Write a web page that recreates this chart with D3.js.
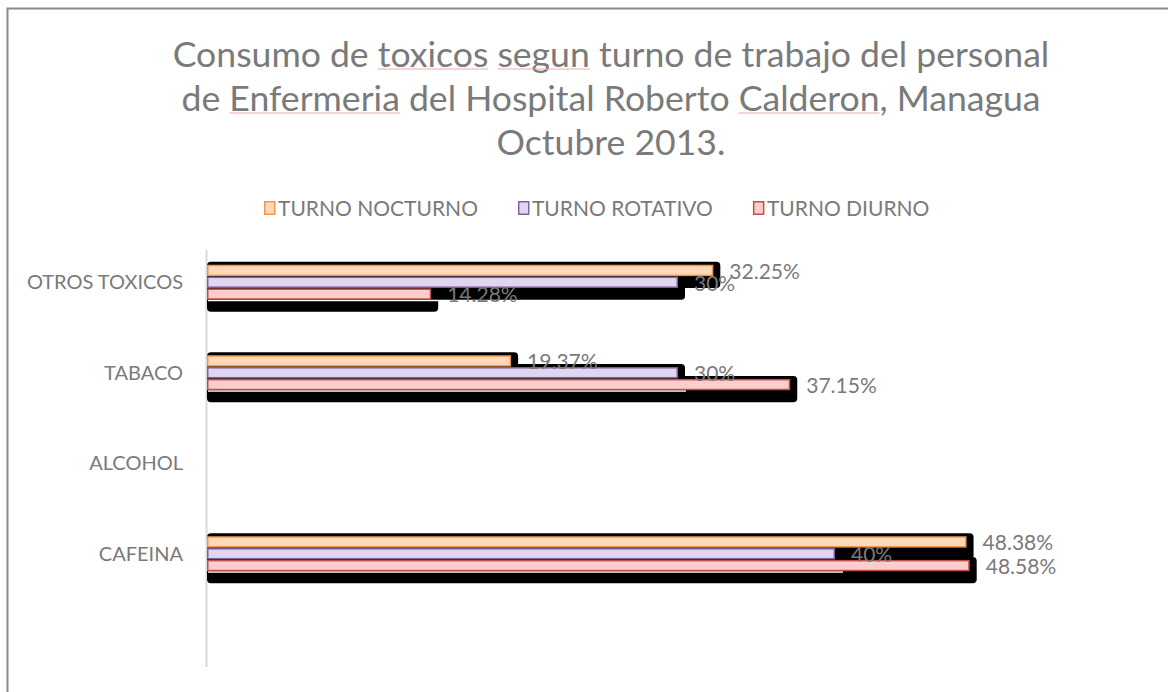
<!DOCTYPE html>
<html>
<head>
<meta charset="utf-8">
<script src="https://d3js.org/d3.v7.min.js"></script>
<style>
  body { margin: 0; background: #fff; }
  svg text { font-family: Lato, "Open Sans", sans-serif; }
</style>
</head>
<body>
<div id="chart"></div>
<script>
// categories, bottom to top as in the original sheet
var categories = ["CAFEINA", "ALCOHOL", "TABACO", "OTROS TOXICOS"];
var seriesNames = ["TURNO NOCTURNO", "TURNO ROTATIVO", "TURNO DIURNO"];
var nocturno = [48.38, null, 19.37, 32.25];
var rotativo = [40, null, 30, 30];
var diurno = [48.58, null, 37.15, 14.28];
var titleLines = [
  "Consumo de toxicos segun turno de trabajo del personal",
  "de Enfermeria del Hospital Roberto Calderon, Managua",
  "Octubre 2013."
];
var flagged = ["toxicos", "segun", "Enfermeria", "Calderon"];

var seriesValues = [nocturno, rotativo, diurno];
var fills = ["#fdd9b9", "#e0d6ef", "#fdcccc"];
var strokes = ["#f79646", "#8064a2", "#c0504d"];

var W = 1168, H = 692;
var svg = d3.select("#chart").append("svg").attr("width", W).attr("height", H);

// outer frame (only left and top edges are visible)
svg.append("path")
  .attr("d", "M7.5," + H + "V8.5H" + W)
  .attr("fill", "none").attr("stroke", "#8a8a8a").attr("stroke-width", 2);

// title
var title = svg.append("g");
var baselines = [67, 111, 155];
titleLines.forEach(function(line, i) {
  var t = title.append("text")
    .attr("x", 611).attr("y", baselines[i])
    .attr("text-anchor", "middle")
    .attr("font-size", 36)
    .attr("fill", "#7a7a7a");
  line.split(" ").forEach(function(w, j) {
    var word = w.replace(/[,.]/g, "");
    t.append("tspan").text((j ? " " : ""));
    t.append("tspan").attr("class", flagged.indexOf(word) >= 0 ? "flag" : null).text(word);
    if (w !== word) t.append("tspan").text(w.slice(word.length));
  });
  if (i === 0) {
    var len = t.node().getComputedTextLength();
    var fs = 36 * 877 / len;
    title.selectAll("text").attr("font-size", fs);
  } else {
    t.attr("font-size", title.select("text").attr("font-size"));
  }
});
title.selectAll("tspan.flag").each(function() {
  var b = this.getBBox();
  title.append("line")
    .attr("x1", b.x).attr("x2", b.x + b.width)
    .attr("y1", b.y + b.height - 6).attr("y2", b.y + b.height - 6)
    .attr("stroke", "#f0a8a8").attr("stroke-width", 1);
});

// legend
var legend = svg.append("g");
var lx = 264;
seriesNames.forEach(function(name, i) {
  legend.append("rect")
    .attr("x", lx + 0.75).attr("y", 201.75).attr("width", 10).attr("height", 12.5)
    .attr("fill", fills[i]).attr("stroke", strokes[i]).attr("stroke-width", 1.5);
  var t = legend.append("text")
    .attr("x", lx + 14).attr("y", 215.5)
    .attr("font-size", 21).attr("fill", "#7a7a7a")
    .text(name);
  lx += 14 + t.node().getComputedTextLength() + 40;
});

// scales
var x = d3.scaleLinear().domain([0, 50]).range([207, 992]);
var y0 = d3.scaleBand().domain(categories.slice().reverse()).range([237, 599]);
var y1 = d3.scaleBand().domain(seriesNames).range([-17.5, 17.5]).paddingInner(0.04);

// category axis
svg.append("line")
  .attr("x1", 206.5).attr("x2", 206.5).attr("y1", 250).attr("y2", 667)
  .attr("stroke", "#d9d9d9").attr("stroke-width", 2);
svg.append("g")
  .selectAll("text").data(categories).join("text")
  .attr("x", 183).attr("y", function(d) { return y0(d) + y0.bandwidth() / 2; })
  .attr("dy", "0.35em")
  .attr("text-anchor", "end")
  .attr("font-size", 20).attr("fill", "#7a7a7a")
  .text(function(d) { return d; });

// flatten bars
var bars = [];
seriesNames.forEach(function(s, si) {
  categories.forEach(function(c, ci) {
    var v = seriesValues[si][ci];
    if (v == null) return;
    bars.push({ series: s, si: si, cat: c, value: v,
                y: y0(c) + y0.bandwidth() / 2 + y1(s) });
  });
});
var bh = y1.bandwidth();

// shadows
svg.append("g").selectAll("rect").data(bars).join("rect")
  .attr("x", x(0))
  .attr("y", function(d) { return d.y - 3; })
  .attr("width", function(d) { return x(d.value) - x(0) + 7; })
  .attr("height", bh + 15)
  .attr("rx", 4)
  .attr("fill", "#000");

// white edge under the middle series shadow
svg.append("g").selectAll("line").data(bars.filter(function(d) { return d.si === 1; })).join("line")
  .attr("x1", x(0) + 1)
  .attr("x2", function(d) { return x(d.value) + 8; })
  .attr("y1", function(d) { return d.y + bh + 12.5; })
  .attr("y2", function(d) { return d.y + bh + 12.5; })
  .attr("stroke", "#fff").attr("stroke-width", 1.5);

// bars
svg.append("g").selectAll("rect").data(bars).join("rect")
  .attr("x", x(0) + 0.75)
  .attr("y", function(d) { return d.y + 0.75; })
  .attr("width", function(d) { return x(d.value) - x(0) - 1.5; })
  .attr("height", bh - 1.5)
  .attr("fill", function(d) { return fills[d.si]; })
  .attr("stroke", function(d) { return strokes[d.si]; })
  .attr("stroke-width", 1.5);

// data labels
svg.append("g").selectAll("text").data(bars).join("text")
  .attr("x", function(d) { return x(d.value) + 16; })
  .attr("y", function(d) { return d.y + bh / 2 + 1; })
  .attr("dy", "0.35em")
  .attr("font-size", 21).attr("fill", "#7a7a7a")
  .text(function(d) { return d.value + "%"; });
</script>
</body>
</html>
